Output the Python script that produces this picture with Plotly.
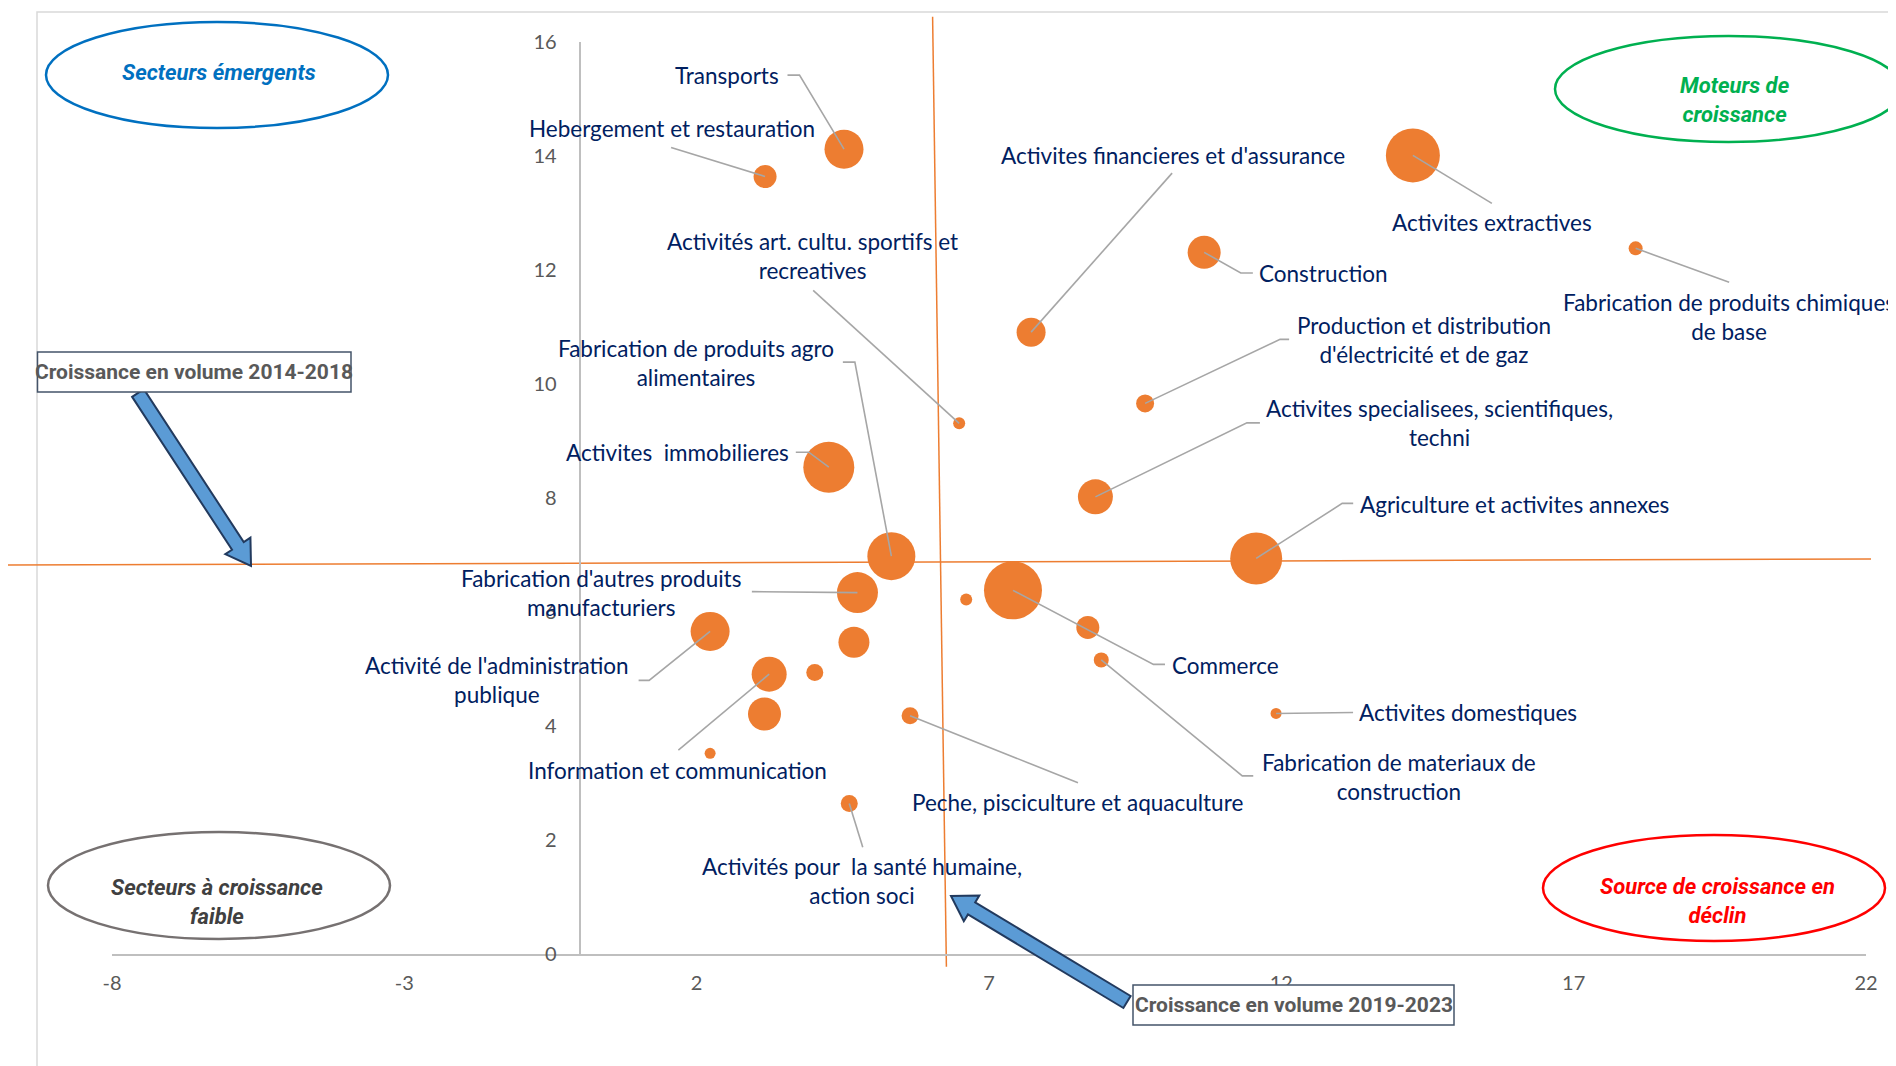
import math
import plotly.graph_objects as go

# ---------------- data ----------------
secteurs = [
    "Transports", "Hebergement et restauration", "Activites financieres et d'assurance",
    "Activites extractives", "Construction", "Fabrication de produits chimiques de base",
    "Production et distribution d'électricité et de gaz", "Activités art. cultu. sportifs et recreatives",
    "Activites  immobilieres", "Activites specialisees, scientifiques, techni",
    "Fabrication de produits agro alimentaires", "Agriculture et activites annexes",
    "Fabrication d'autres produits manufacturiers", "Commerce", "", "",
    "Fabrication de materiaux de construction", "Activité de l'administration publique", "",
    "Information et communication", "", "", "", "Peche, pisciculture et aquaculture",
    "Activites domestiques", "Activités pour  la santé humaine, action soci",
]
croissance_2019_2023 = [4.52, 3.17, 7.72, 14.25, 10.68, 18.06, 9.67, 6.49, 4.26, 8.82, 5.33, 11.57, 4.75,
                        7.41, 6.61, 8.69, 8.92, 2.23, 4.69, 3.24, 4.02, 3.16, 2.23, 5.65, 11.91, 4.61]
croissance_2014_2018 = [14.12, 13.64, 10.91, 14.01, 12.31, 12.38, 9.66, 9.31, 8.54, 8.02, 6.98, 6.94, 6.34,
                        6.38, 6.22, 5.73, 5.16, 5.66, 5.47, 4.91, 4.94, 4.21, 3.52, 4.18, 4.22, 2.64]
poids = [39, 23, 29, 54, 33, 14, 18, 12, 51, 35, 48, 52, 41, 58, 12, 23, 15, 39, 31, 35, 17, 33, 11, 17, 11, 17]

x_ticks = [-8, -3, 2, 7, 12, 17, 22]
x_tick_text = ["-8", "-3", "2", "7", "12", "17", "22"]
y_ticks = [0, 2, 4, 6, 8, 10, 12, 14, 16]

# label texts (display)
label_text = {
    "Fabrication de produits chimiques de base": "Fabrication de produits chimiques<br>de base",
    "Production et distribution d'électricité et de gaz": "Production et distribution<br>d'électricité et de gaz",
    "Activités art. cultu. sportifs et recreatives": "Activités art. cultu. sportifs et<br>recreatives",
    "Activites specialisees, scientifiques, techni": "Activites specialisees, scientifiques,<br>techni",
    "Fabrication de produits agro alimentaires": "Fabrication de produits agro<br>alimentaires",
    "Fabrication d'autres produits manufacturiers": "Fabrication d'autres produits<br>manufacturiers",
    "Fabrication de materiaux de construction": "Fabrication de materiaux de<br>construction",
    "Activité de l'administration publique": "Activité de l'administration<br>publique",
    "Activités pour  la santé humaine, action soci": "Activités pour  la santé humaine,<br>action soci",
}
# layout only: label centre offset from its bubble (px, y down)
label_offset = {
    "Transports": (-117, -74),
    "Hebergement et restauration": (-93, -48),
    "Activites financieres et d'assurance": (142, -177),
    "Activites extractives": (79, 67),
    "Construction": (119, 21),
    "Fabrication de produits chimiques de base": (93, 69),
    "Production et distribution d'électricité et de gaz": (279, -63),
    "Activités art. cultu. sportifs et recreatives": (-147, -167),
    "Activites  immobilieres": (-151, -15),
    "Activites specialisees, scientifiques, techni": (344, -74),
    "Fabrication de produits agro alimentaires": (-195, -193),
    "Agriculture et activites annexes": (258, -54),
    "Fabrication d'autres produits manufacturiers": (-256, 0),
    "Commerce": (213, 75),
    "Fabrication de materiaux de construction": (298, 117),
    "Activité de l'administration publique": (-213, 49),
    "Information et communication": (-92, 96),
    "Peche, pisciculture et aquaculture": (167, 87),
    "Activites domestiques": (192, -1),
    "Activités pour  la santé humaine, action soci": (13, 77),
}
# layout only: leader-line points (px from bubble, y down), ending at the bubble centre
leader_pts = {
    "Transports": [(-56.5, -74), (-44.5, -74)],
    "Hebergement et restauration": [(-94, -29)],
    "Activites financieres et d'assurance": [(141, -159)],
    "Activites extractives": [(79, 48)],
    "Construction": [(48.7, 20.7), (36.6, 20.7)],
    "Fabrication de produits chimiques de base": [(93.5, 34)],
    "Production et distribution d'électricité et de gaz": [(144, -64), (135, -64)],
    "Activités art. cultu. sportifs et recreatives": [(-146, -133)],
    "Activites  immobilieres": [(-33, -15), (-20, -15)],
    "Activites specialisees, scientifiques, techni": [(164.5, -74), (151.5, -74)],
    "Fabrication de produits agro alimentaires": [(-48.5, -194), (-36.5, -194)],
    "Agriculture et activites annexes": [(97, -55), (86, -55)],
    "Fabrication d'autres produits manufacturiers": [(-105.6, -1)],
    "Commerce": [(152, 74), (140.5, 74)],
    "Fabrication de materiaux de construction": [(152, 116), (141, 116)],
    "Activité de l'administration publique": [(-71.5, 49), (-61, 49)],
    "Information et communication": [(-90.8, 76)],
    "Peche, pisciculture et aquaculture": [(167.9, 67)],
    "Activites domestiques": [(77, -1)],
    "Activités pour  la santé humaine, action soci": [(13.5, 43.7)],
}

# ---------------- layout helpers ----------------
OFF = 8                      # page body margin
W, H = 1888, 1058
ML, MR, MT, MB = 104, 30, 34, 112
PW, PH = W - ML - MR, H - MT - MB


def PX(px):
    """screen pixel x -> paper fraction"""
    return (px - OFF - ML) / PW


def PY(py):
    """screen pixel y -> paper fraction"""
    return (MT + PH - (py - OFF)) / PH


LABEL_FONT = "Lato, 'Open Sans', sans-serif"
COND_FONT = "Roboto, 'Liberation Sans Narrow', sans-serif"
NAVY = "#002060"
ORANGE = "#ED7D31"
LEADER = "#A6A6A6"

fig = go.Figure()
fig.add_trace(go.Scatter(
    x=croissance_2019_2023, y=croissance_2014_2018, mode="markers",
    text=secteurs, hoverinfo="skip",
    marker=dict(size=poids, sizemode="diameter", sizeref=1, color=ORANGE, line=dict(width=0), opacity=1),
    showlegend=False,
))

shapes = []
# outer frame
shapes.append(dict(type="rect", xref="paper", yref="paper", x0=PX(37), x1=PX(1930), y0=PY(1100), y1=PY(12),
                   line=dict(color="#D9D9D9", width=1.5), layer="below"))
# orange reference lines (slightly tilted, as drawn)
shapes.append(dict(type="line", xref="paper", yref="paper", x0=PX(932.6), y0=PY(16.7), x1=PX(946.4), y1=PY(966.7),
                   line=dict(color=ORANGE, width=1.5), layer="below"))
shapes.append(dict(type="line", xref="paper", yref="paper", x0=PX(7.7), y0=PY(565), x1=PX(1871), y1=PY(559),
                   line=dict(color=ORANGE, width=1.5), layer="below"))

# quadrant ellipses
ellipses = [
    ((46, 22, 388, 128), "#0070C0"),
    ((1555, 36, 1902, 142), "#00B050"),
    ((48, 832, 390, 939), "#767171"),
    ((1543, 835, 1885, 941), "#FF0000"),
]
for (a, b, c, d), col in ellipses:
    shapes.append(dict(type="circle", xref="paper", yref="paper", x0=PX(a), x1=PX(c), y0=PY(d), y1=PY(b),
                       line=dict(color=col, width=2.5), fillcolor="rgba(0,0,0,0)"))


# block arrows
def block_arrow(tail, tip, shaft=7, head=15, head_len=24):
    tx, ty = tail
    hx, hy = tip
    dx, dy = hx - tx, hy - ty
    L = math.hypot(dx, dy)
    ux, uy = dx / L, dy / L
    nx, ny = -uy, ux
    bx, by = hx - ux * head_len, hy - uy * head_len
    pts = [
        (tx + nx * shaft, ty + ny * shaft),
        (bx + nx * shaft, by + ny * shaft),
        (bx + nx * head, by + ny * head),
        (hx, hy),
        (bx - nx * head, by - ny * head),
        (bx - nx * shaft, by - ny * shaft),
        (tx - nx * shaft, ty - ny * shaft),
    ]
    path = "M " + " L ".join(f"{PX(x):.5f},{PY(y):.5f}" for x, y in pts) + " Z"
    return dict(type="path", xref="paper", yref="paper", path=path,
                fillcolor="#5B9BD5", line=dict(color="#223A5E", width=2))


shapes.append(block_arrow((138, 393), (251, 566)))
shapes.append(block_arrow((1127, 1002), (951, 896)))

# text boxes
boxes = [((37.5, 352, 351, 392), "Croissance en volume 2014-2018"),
         ((1133, 985, 1454, 1025), "Croissance en volume 2019-2023")]
annotations = []
for (a, b, c, d), txt in boxes:
    shapes.append(dict(type="rect", xref="paper", yref="paper", x0=PX(a), x1=PX(c), y0=PY(d), y1=PY(b),
                       line=dict(color="#44546A", width=1.5), fillcolor="white"))
    annotations.append(dict(xref="paper", yref="paper", x=PX((a + c) / 2), y=PY((b + d) / 2), text=f"<b>{txt}</b>",
                            showarrow=False, xanchor="center", yanchor="middle",
                            font=dict(family=COND_FONT, size=21, color="#595959")))

quad_texts = [
    ((219, 73), "Secteurs émergents", "#0070C0"),
    ((1735, 100), "Moteurs de<br>croissance", "#00B050"),
    ((217, 902), "Secteurs à croissance<br>faible", "#404040"),
    ((1717, 901), "Source de croissance en<br>déclin", "#FF0000"),
]
for (a, b), txt, col in quad_texts:
    annotations.append(dict(xref="paper", yref="paper", x=PX(a), y=PY(b), text=f"<b><i>{txt}</i></b>",
                            showarrow=False, xanchor="center", yanchor="middle",
                            font=dict(family=COND_FONT, size=22, color=col)))

# sector labels with leader lines
for name, xv, yv in zip(secteurs, croissance_2019_2023, croissance_2014_2018):
    if not name:
        continue
    dx, dy = label_offset[name]
    annotations.append(dict(
        x=xv, y=yv, xref="x", yref="y", xshift=dx, yshift=-dy, showarrow=False,
        xanchor="center", yanchor="middle",
        text=label_text.get(name, name), align="center",
        font=dict(family=LABEL_FONT, size=22.5, color=NAVY),
    ))
    pts = leader_pts[name] + [(0, 0)]
    path = "M " + " L ".join(f"{px},{-py}" for px, py in pts)
    shapes.append(dict(type="path", xref="x", yref="y", xsizemode="pixel", ysizemode="pixel",
                       xanchor=xv, yanchor=yv, path=path, line=dict(color=LEADER, width=1.6)))

fig.update_layout(
    width=W, height=H,
    margin=dict(l=ML, r=MR, t=MT, b=MB),
    paper_bgcolor="white", plot_bgcolor="rgba(0,0,0,0)",
    shapes=shapes, annotations=annotations,
    xaxis=dict(range=[-8, 22], tickvals=x_ticks, ticktext=x_tick_text, showgrid=False, zeroline=False,
               showline=True, linecolor="#BFBFBF", linewidth=2, ticks="",
               ticklabelstandoff=10, tickfont=dict(family=LABEL_FONT, size=20, color="#595959")),
    yaxis=dict(range=[0, 16], tickvals=y_ticks, showgrid=False, zeroline=False,
               anchor="free", position=8 / 30,
               showline=True, linecolor="#BFBFBF", linewidth=2, ticks="",
               ticklabelstandoff=18, tickfont=dict(family=LABEL_FONT, size=20, color="#595959")),
)

fig.write_html("out.html")
